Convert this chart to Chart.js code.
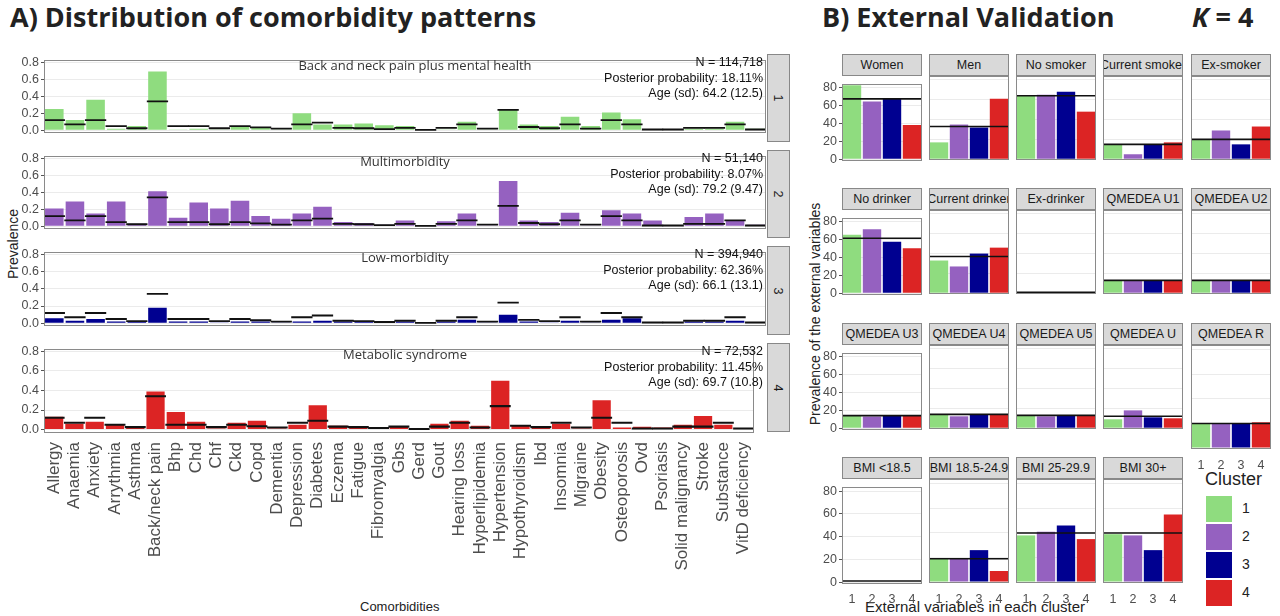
<!DOCTYPE html>
<html><head><meta charset="utf-8">
<script src="https://cdn.jsdelivr.net/npm/chart.js@4"></script>
<style>
body{margin:0;width:1280px;height:616px;background:#fff;position:relative;overflow:hidden;font-family:"Liberation Sans",Arial,sans-serif;}
canvas{position:absolute;}
.t{position:absolute;white-space:nowrap;color:#222;}
.strip{position:absolute;background:#d9d9d9;border:1px solid #888;box-sizing:border-box;display:flex;align-items:center;justify-content:center;font-size:12.5px;color:#1a1a1a;overflow:hidden;white-space:nowrap;}
.ann{position:absolute;text-align:right;font-size:12.5px;line-height:15.5px;color:#111;}
</style></head><body>
<div class="t" style="left:10px;top:-2px;font:bold 27px 'Open Sans',sans-serif;">A) Distribution of comorbidity patterns</div>
<div class="t" style="left:822px;top:-2px;font:bold 27px 'Open Sans',sans-serif;">B) External Validation</div>
<div class="t" style="left:1192px;top:-2px;font:bold 27px 'Open Sans',sans-serif;"><i>K</i> = 4</div>
<div class="t" style="left:-22px;top:236px;font-size:14px;transform:rotate(-90deg);">Prevalence</div>
<div class="t" style="left:360px;top:599px;font-size:13px;">Comorbidities</div>
<div class="t" style="left:700px;top:306px;font-size:14px;transform:rotate(-90deg);width:230px;text-align:center;">Prevalence of the external variables</div>
<div class="t" style="left:865px;top:598px;font-size:15px;color:#222;">External variables in each cluster</div>
<div id="root"></div>
<script>
const comorbidities=["Allergy","Anaemia","Anxiety","Arrythmia","Asthma","Back/neck pain","Bhp","Chd","Chf","Ckd","Copd","Dementia","Depression","Diabetes","Eczema","Fatigue","Fibromyalgia","Gbs","Gerd","Gout","Hearing loss","Hyperlipidemia","Hypertension","Hypothyroidism","Ibd","Insomnia","Migraine","Obesity","Osteoporosis","Ovd","Psoriasis","Solid malignancy","Stroke","Substance","VitD deficiency"];
const overallMean=[.12,.07,.12,.05,.025,.34,.05,.05,.025,.05,.035,.02,.07,.09,.03,.025,.015,.03,.005,.03,.07,.02,.24,.04,.025,.07,.02,.12,.07,.01,.01,.03,.03,.07,.01];
const cluster1=[.25,.12,.36,.02,.05,.69,.01,.02,.01,.04,.03,.01,.20,.07,.07,.08,.06,.05,.005,.01,.10,.01,.25,.07,.05,.16,.05,.21,.13,.005,.005,.02,.02,.10,.02];
const cluster2=[.21,.29,.15,.29,.03,.41,.10,.28,.21,.30,.12,.09,.15,.23,.05,.04,.02,.07,.01,.06,.15,.01,.53,.07,.05,.16,.01,.19,.15,.07,.01,.11,.15,.07,.02];
const cluster3=[.06,.03,.05,.02,.02,.18,.02,.02,.01,.02,.02,.01,.02,.03,.02,.02,.01,.02,.005,.02,.04,.01,.10,.02,.01,.03,.01,.04,.06,.005,.005,.02,.02,.03,.01];
const cluster4=[.13,.06,.08,.05,.02,.39,.18,.08,.01,.07,.09,.01,.05,.25,.04,.02,.01,.03,.005,.06,.09,.04,.50,.04,.02,.06,.01,.30,.02,.03,.02,.05,.14,.05,.01];
const clusterTitles=["Back and neck pain plus mental health","Multimorbidity","Low-morbidity","Metabolic syndrome"];
const clusterN=["N = 114,718","N = 51,140","N = 394,940","N = 72,532"];
const clusterPost=["Posterior probability: 18.11%","Posterior probability: 8.07%","Posterior probability:  62.36%","Posterior probability: 11.45%"];
const clusterAge=["Age (sd): 64.2 (12.5)","Age (sd): 79.2 (9.47)","Age (sd): 66.1 (13.1)","Age (sd): 69.7 (10.8)"];
const clusterColors=["#8fdc7f","#9561c0","#000090","#dc2424"];
const aTicks=[0,0.2,0.4,0.6,0.8];

const extVars=["Women","Men","No smoker","Current smoker","Ex-smoker","No drinker","Current drinker","Ex-drinker","QMEDEA U1","QMEDEA U2","QMEDEA U3","QMEDEA U4","QMEDEA U5","QMEDEA U","QMEDEA R","BMI <18.5","BMI 18.5-24.9","BMI 25-29.9","BMI 30+"];
const extC1=[82,17,64,15,20,65,33,0.5,13,13,14,14,13,9,20,0.5,19,38,39];
const extC2=[64,35,65,5,29,71,27,0.5,13,13,13,12,12,18,20,0.5,19,41,38];
const extC3=[68,32,68,15,15,57,40,0.5,13,13,14,14,13,11,20,0.5,26,46,26];
const extC4=[38,61,48,17,33,50,46,1,13,13,14,14,13,10,21,0.5,9,35,55];
const extMean=[67,33,64,15,20,61,37,1,13,13,14,14,13,12,20,1,19,40,40];
const clusterLabels=["1","2","3","4"];
const bTicks=[0,20,40,60,80];

const root=document.getElementById('root');
const frame={id:'frame',afterDraw(c){const a=c.chartArea,x=c.ctx;x.save();x.strokeStyle='#8a8a8a';x.lineWidth=1;x.strokeRect(Math.round(a.left)+.5,Math.round(a.top)+.5,Math.round(a.right-a.left)-1,Math.round(a.bottom-a.top)-1);x.restore();}};
function el(tag,cls,style,html){const e=document.createElement(tag);if(cls)e.className=cls;Object.assign(e.style,style);if(html!=null)e.innerHTML=html;root.appendChild(e);return e;}
function canvas(l,t,w,h){const c=document.createElement('canvas');c.width=w;c.height=h;c.style.left=l+'px';c.style.top=t+'px';c.style.width=w+'px';c.style.height=h+'px';root.appendChild(c);return c;}

// Panel A
const rowsA=[{top:54,h:88},{top:150,h:88},{top:246,h:89},{top:343,h:89}];
const clusters=[cluster1,cluster2,cluster3,cluster4];
rowsA.forEach((r,i)=>{
  const last=i===3, xh=last?157:0;
  const cv=canvas(0,r.top-4,766,r.h+4+xh);
  new Chart(cv,{type:'bar',data:{labels:comorbidities,datasets:[
    {data:overallMean.map(m=>[m-0.007,m+0.007]),backgroundColor:'#111',grouped:false,barPercentage:1,categoryPercentage:1,order:0},
    {data:clusters[i],backgroundColor:clusterColors[i],grouped:false,barPercentage:0.9,categoryPercentage:1,order:1}]},
    options:{responsive:false,animation:false,devicePixelRatio:1,layout:{padding:{top:4,right:0,left:0,bottom:0}},
      plugins:{legend:{display:false},tooltip:{enabled:false}},
      scales:{x:{display:last,grid:{display:false},border:{display:false},
          ticks:{autoSkip:false,maxRotation:90,minRotation:90,color:'#4d4d4d',font:{size:17,family:"Liberation Sans"},padding:2},
          afterFit(s){if(last)s.height=xh;}},
        y:{min:-0.025,max:0.83,afterBuildTicks(s){s.ticks=aTicks.map(v=>({value:v}));},
          ticks:{callback:v=>Number(v).toFixed(1),color:'#4d4d4d',font:{size:12.5,family:"Liberation Sans"},padding:2},
          grid:{color:'#ebebeb',tickColor:'#555',tickLength:3},border:{display:false},afterFit(s){s.width=44;}}}},
    plugins:[frame]});
  el('div','strip',{left:'767px',top:r.top+'px',width:'23px',height:r.h+'px'},'<span style="transform:rotate(90deg);display:inline-block">'+(i+1)+'</span>');
  el('div','t',{left:'44px',width:'722px',textAlign:'center',top:(r.top+2)+'px',fontSize:'13px',fontFamily:"'Open Sans',sans-serif",color:'#333',paddingLeft:(i===0?'10px':'0')},clusterTitles[i]);
  el('div','ann',{right:(1280-763)+'px',top:(r.top+1)+'px'},clusterN[i]+'<br>'+clusterPost[i]+'<br>'+clusterAge[i]);
});

// Panel B
const colL=[842,929,1016,1103,1191], rowT=[76,210,345,479];
const hline={id:'hline',afterDatasetsDraw(c,a,o){const y=c.scales.y.getPixelForValue(o.value),ar=c.chartArea,x=c.ctx;x.save();x.strokeStyle='#111';x.lineWidth=1.6;x.beginPath();x.moveTo(ar.left,y);x.lineTo(ar.right,y);x.stroke();x.restore();}};
extVars.forEach((name,k)=>{
  const col=k%5,row=Math.floor(k/5);
  const L=colL[col],T=rowT[row];
  const showX=(row===3)||(row===2&&col===4), showY=col===0;
  const cv=canvas(L-34,T-2,116,showX?126:106);
  new Chart(cv,{type:'bar',data:{labels:clusterLabels,datasets:[{data:[extC1[k],extC2[k],extC3[k],extC4[k]],backgroundColor:clusterColors,barPercentage:0.92,categoryPercentage:1}]},
    options:{responsive:false,animation:false,devicePixelRatio:1,layout:{padding:{top:2,right:2,left:0,bottom:0}},
      plugins:{legend:{display:false},tooltip:{enabled:false},hline:{value:extMean[k]}},
      scales:{x:{display:showX,grid:{display:false},border:{display:false},ticks:{color:'#4d4d4d',font:{size:12.5,family:"Liberation Sans"},padding:1},afterFit(s){s.height=20;}},
        y:{min:-0.8,max:84,afterBuildTicks(s){s.ticks=bTicks.map(v=>({value:v}));},
          ticks:{display:showY,color:'#4d4d4d',font:{size:12.5,family:"Liberation Sans"},padding:2},
          grid:{color:'#ebebeb',drawTicks:showY,tickColor:'#555',tickLength:3},border:{display:false},afterFit(s){s.width=34;}}}},
    plugins:[hline,frame]});
  el('div','strip',{left:L+'px',top:(T-22)+'px',width:'80px',height:'22px'},name);
});
// Legend
el('div','t',{left:'1205px',top:'469px',fontSize:'18px',color:'#222'},'Cluster');
clusterLabels.forEach((l,i)=>{
  el('div','',{position:'absolute',left:'1206px',top:(496+i*28)+'px',width:'26px',height:'26px',background:clusterColors[i]});
  el('div','t',{left:'1242px',top:(500+i*28)+'px',fontSize:'14px'},l);
});
</script></body></html>
